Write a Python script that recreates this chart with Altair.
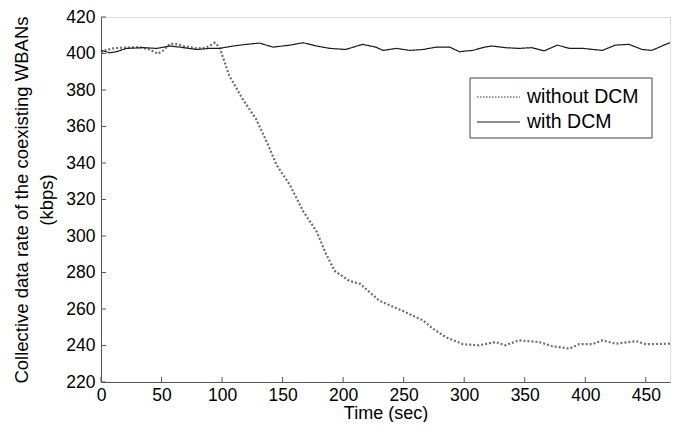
import altair as alt
import pandas as pd

# ---- data ----
t_with = [0, 7, 13, 21, 35, 46, 57, 65, 79, 90, 98, 109, 120, 131, 142, 150, 156, 167, 178, 189, 202, 216, 227, 233, 244, 255, 266, 277, 288, 296, 307, 317, 323, 334, 345, 356, 366, 377, 387, 398, 414, 425, 436, 447, 455, 465, 470]
r_with = [401.7, 400.4, 401.0, 402.8, 403.2, 402.8, 404.1, 403.5, 402.2, 402.8, 402.8, 404.1, 405.0, 405.7, 403.5, 404.1, 404.6, 405.9, 404.1, 402.8, 402.2, 405.0, 403.5, 401.7, 402.8, 401.7, 402.2, 403.5, 403.5, 401.0, 401.7, 403.5, 404.1, 403.2, 402.8, 403.2, 401.4, 404.6, 402.8, 402.8, 401.7, 404.6, 405.0, 402.2, 401.7, 404.6, 405.9]

t_without = [0, 2, 10, 18, 32, 40, 47, 51, 57, 61, 68, 79, 87, 94, 98, 106, 117, 128, 137, 145, 156, 167, 178, 186, 193, 205, 214, 230, 249, 266, 274, 285, 299, 312, 326, 334, 345, 362, 373, 387, 395, 406, 414, 425, 442, 450, 470]
r_without = [400.5, 401.4, 402.8, 403.2, 403.5, 402.2, 399.9, 401.4, 405.3, 405.3, 404.1, 402.8, 403.2, 405.9, 403.2, 387.8, 375.0, 364.2, 351.5, 338.9, 328.0, 313.5, 302.6, 290.0, 280.9, 275.4, 273.8, 264.5, 259.0, 253.7, 249.3, 244.5, 240.7, 240.1, 241.9, 240.1, 242.8, 241.9, 239.6, 238.3, 240.7, 240.7, 242.8, 241.0, 242.4, 240.7, 241.0]

series = ["without DCM", "with DCM"]
x_ticks = [0, 50, 100, 150, 200, 250, 300, 350, 400, 450]
y_ticks = [220, 240, 260, 280, 300, 320, 340, 360, 380, 400, 420]

df = pd.concat([
    pd.DataFrame({"t": t_without, "r": r_without, "s": series[0]}),
    pd.DataFrame({"t": t_with, "r": r_with, "s": series[1]}),
])

W, H = 569, 365
FONT = "Liberation Sans"
COLORS = ["#6e6e6e", "#1a1a1a"]

xs = alt.Scale(domain=[0, 470], nice=False, zero=False)
ys = alt.Scale(domain=[220, 420], nice=False, zero=False)

xaxis = alt.Axis(
    title="Time (sec)", values=x_ticks, ticks=False, labelPadding=4,
    labelOverlap=False, labelFlush=False,
    domainColor="#555", labelColor="black", titleColor="black",
    labelFontSize=17.5, titleFontSize=18, titleFontWeight="normal",
    labelFont=FONT, titleFont=FONT, grid=False, titlePadding=1)
yaxis = alt.Axis(
    title=["Collective data rate of the coexisting WBANs", "(kbps)"],
    values=y_ticks, ticks=False, labelPadding=6,
    labelOverlap=False, labelFlush=False,
    domainColor="#555", labelColor="black", titleColor="black",
    labelFontSize=17.5, titleFontSize=18.5, titleFontWeight="normal",
    labelFont=FONT, titleFont=FONT, grid=False, titlePadding=9,
    titleLineHeight=25)

lines = alt.Chart(df).mark_line().encode(
    x=alt.X("t:Q", scale=xs, axis=xaxis, title="Time (sec)"),
    y=alt.Y("r:Q", scale=ys, axis=yaxis),
    color=alt.Color("s:N", scale=alt.Scale(domain=series, range=COLORS), legend=None),
    strokeDash=alt.StrokeDash("s:N", scale=alt.Scale(domain=series, range=[[2, 2], [1, 0]]),
                              legend=None),
    strokeWidth=alt.StrokeWidth("s:N", scale=alt.Scale(domain=series, range=[2.2, 1.2]), legend=None),
)

ytick_df = pd.DataFrame({"r": y_ticks})
xtick_df = pd.DataFrame({"t": x_ticks})

yt = alt.Chart(ytick_df).mark_rule(color="#555", strokeWidth=1).encode(
    y=alt.Y("r:Q", scale=ys, axis=yaxis), x=alt.value(0), x2=alt.value(5))
xt = alt.Chart(xtick_df).mark_rule(color="#555", strokeWidth=1).encode(
    x=alt.X("t:Q", scale=xs, axis=xaxis), y=alt.value(H), y2=alt.value(H - 5))

# ---- legend (drawn as a boxed key in the upper right) ----
box_df = pd.DataFrame({"k": [0]})
box = alt.Chart(box_df).mark_rect(fill="white", stroke="#444", strokeWidth=1).encode(
    x=alt.value(369), x2=alt.value(551), y=alt.value(61), y2=alt.value(121))

key1 = alt.Chart(box_df).mark_rule(color="#777", strokeWidth=1.3, strokeDash=[1.5, 1.5]).encode(
    x=alt.value(376), x2=alt.value(419), y=alt.value(80))
key2 = alt.Chart(box_df).mark_rule(color="#1a1a1a", strokeWidth=1.1).encode(
    x=alt.value(376), x2=alt.value(419), y=alt.value(105))
lab_df = pd.DataFrame({"s": series, "i": [0, 1]})
lab1 = alt.Chart(lab_df.iloc[[0]]).mark_text(align="left", baseline="middle", font=FONT,
                                              fontSize=19.5, color="black").encode(
    text="s:N", x=alt.value(426), y=alt.value(80))
lab2 = alt.Chart(lab_df.iloc[[1]]).mark_text(align="left", baseline="middle", font=FONT,
                                              fontSize=19.5, color="black").encode(
    text="s:N", x=alt.value(426), y=alt.value(105))

chart = alt.layer(lines, yt, xt, box, key1, key2, lab1, lab2).properties(
    width=W, height=H,
    autosize=alt.AutoSizeParams(type="none"),
    padding={"left": 93, "top": 9, "right": 4, "bottom": 40},
).configure_view(stroke=None).configure(background="white")

chart.save("out.html", embed_options={"renderer": "svg", "actions": False})
